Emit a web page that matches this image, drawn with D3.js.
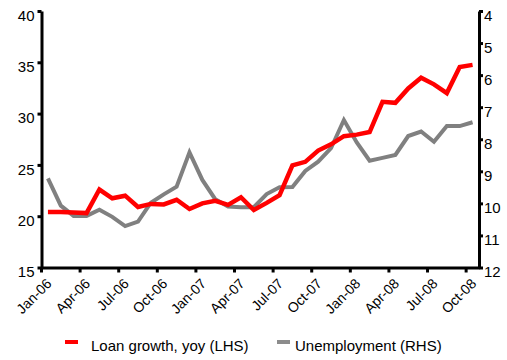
<!DOCTYPE html>
<html>
<head>
<meta charset="utf-8">
<script src="https://cdn.jsdelivr.net/npm/d3@7"></script>
<style>
  html, body { margin: 0; padding: 0; background: #fff; }
  svg { display: block; font-family: "Liberation Sans", Arial, sans-serif; }
</style>
</head>
<body>
<svg id="chart" width="507" height="360"></svg>
<script>
// Monthly categories, Jan-06 .. Oct-08
const months = [
  "Jan-06","Feb-06","Mar-06","Apr-06","May-06","Jun-06","Jul-06","Aug-06","Sep-06","Oct-06","Nov-06","Dec-06",
  "Jan-07","Feb-07","Mar-07","Apr-07","May-07","Jun-07","Jul-07","Aug-07","Sep-07","Oct-07","Nov-07","Dec-07",
  "Jan-08","Feb-08","Mar-08","Apr-08","May-08","Jun-08","Jul-08","Aug-08","Sep-08","Oct-08"
];

// Loan growth, yoy (%), left axis
const loanGrowth = [
  20.4, 20.4, 20.35, 20.3, 22.6, 21.75, 22.0, 20.9, 21.2, 21.15, 21.6, 20.7,
  21.25, 21.5, 21.1, 21.85, 20.6, 21.3, 22.05, 24.95, 25.3, 26.4, 27.0, 27.8,
  27.95, 28.2, 31.15, 31.05, 32.45, 33.5, 32.85, 32.0, 34.55, 34.75
];

// Unemployment rate (%), right axis (inverted)
const unemployment = [
  9.22, 10.07, 10.39, 10.39, 10.2, 10.42, 10.71, 10.57, 9.98, 9.72, 9.48, 8.41,
  9.27, 9.87, 10.1, 10.12, 10.12, 9.71, 9.5, 9.49, 8.99, 8.7, 8.28, 7.4,
  8.1, 8.67, 8.58, 8.49, 7.9, 7.76, 8.08, 7.59, 7.59, 7.47
];

const leftTicks = [15, 20, 25, 30, 35, 40];
const rightTicks = [4, 5, 6, 7, 8, 9, 10, 11, 12];
const xTickLabels = months.filter((m, i) => i % 3 === 0);

const seriesNames = ["Loan growth, yoy (LHS)", "Unemployment (RHS)"];
const seriesColors = ["#ff0000", "#808080"];

const svg = d3.select("#chart");

const plot = { left: 41.5, right: 479, top: 11, bottom: 267.5 };

const x = d3.scaleBand().domain(months).range([plot.left, plot.right]).padding(0);
const yL = d3.scaleLinear().domain([15, 40]).range([plot.bottom, plot.top]);
const yR = d3.scaleLinear().domain([4, 12]).range([plot.top, plot.bottom]);
const cx = d => x(d) + x.bandwidth() / 2;

// Series lines
const lineL = d3.line().x((d, i) => cx(months[i])).y(d => yL(d));
const lineR = d3.line().x((d, i) => cx(months[i])).y(d => yR(d));

svg.append("path")
  .datum(unemployment)
  .attr("d", lineR)
  .attr("fill", "none")
  .attr("stroke", seriesColors[1])
  .attr("stroke-width", 4)
  .attr("stroke-linejoin", "miter");

svg.append("path")
  .datum(loanGrowth)
  .attr("d", lineL)
  .attr("fill", "none")
  .attr("stroke", seriesColors[0])
  .attr("stroke-width", 4.5)
  .attr("stroke-linejoin", "miter");

// Axes
function styleAxis(g) {
  g.attr("font-family", null).attr("font-size", null);
  g.select(".domain").attr("stroke", "#000").attr("stroke-width", 3);
  g.selectAll(".tick line").attr("stroke", "#000").attr("stroke-width", 3);
  g.selectAll(".tick text").attr("fill", "#000");
}

const gL = svg.append("g")
  .attr("transform", `translate(${plot.left},0)`)
  .call(d3.axisLeft(yL).tickValues(leftTicks).tickSize(4).tickSizeOuter(0).tickPadding(3))
  .call(styleAxis);
gL.selectAll(".tick text").attr("font-size", 15).attr("y", 4.5);

const gR = svg.append("g")
  .attr("transform", `translate(${plot.right},0)`)
  .call(d3.axisRight(yR).tickValues(rightTicks).tickSize(4).tickSizeOuter(0).tickPadding(1))
  .call(styleAxis);
gR.selectAll(".tick text").attr("font-size", 15).attr("y", 4.5);

const gX = svg.append("g")
  .attr("transform", `translate(0,${plot.bottom})`)
  .call(d3.axisBottom(x).tickValues(xTickLabels).tickSize(5).tickSizeOuter(0))
  .call(styleAxis);
gX.selectAll(".tick").attr("transform", d => `translate(${x(d)},0)`);
gX.selectAll(".tick text")
  .attr("font-size", 14)
  .attr("text-anchor", "end")
  .attr("dy", null)
  .attr("x", 0)
  .attr("y", 0)
  .attr("transform", "translate(11,17) rotate(-45)");

// Legend
const legendItems = [
  { name: seriesNames[0], color: seriesColors[0], x: 65, tx: 91 },
  { name: seriesNames[1], color: "#8c8c8c", x: 277, tx: 295 }
];
const lg = svg.append("g");
legendItems.forEach(it => {
  lg.append("line")
    .attr("x1", it.x).attr("x2", it.x + 13)
    .attr("y1", 342).attr("y2", 342)
    .attr("stroke", it.color).attr("stroke-width", 4);
  lg.append("text")
    .attr("x", it.tx).attr("y", 351)
    .attr("font-size", 15)
    .attr("fill", "#000")
    .text(it.name);
});
</script>
</body>
</html>
